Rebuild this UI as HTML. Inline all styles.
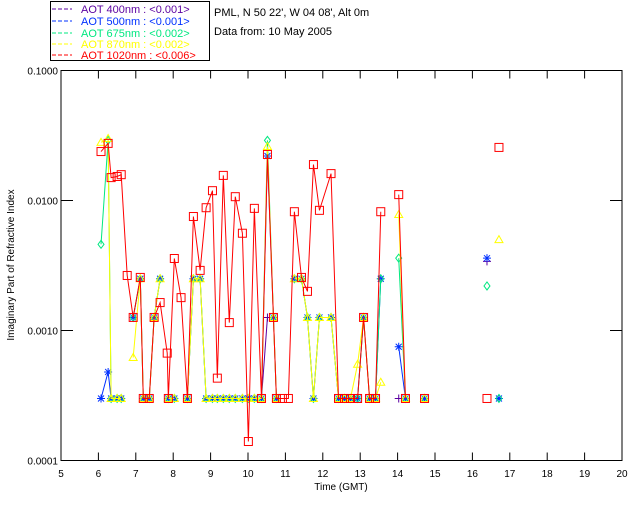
<!DOCTYPE html>
<html><head><meta charset="utf-8"><style>
body{margin:0;background:#fff;width:640px;height:512px;overflow:hidden}
svg{display:block;font-family:"Liberation Sans",sans-serif}
</style></head><body>
<svg id="chart" width="640" height="512">
  <g font-size="11">
    <rect x="50.5" y="1.5" width="159" height="59" fill="#fff" stroke="#000"/>
    <g><line x1="52" y1="9" x2="72" y2="9" stroke="#5a00a0" stroke-dasharray="4,2"/><text x="81" y="13" fill="#5a00a0">AOT  400nm : &lt;0.001&gt;</text></g>
    <g><line x1="52" y1="21" x2="72" y2="21" stroke="#0030ff" stroke-dasharray="4,2"/><text x="81" y="25" fill="#0030ff">AOT  500nm : &lt;0.001&gt;</text></g>
    <g><line x1="52" y1="33" x2="72" y2="33" stroke="#00e880" stroke-dasharray="4,2"/><text x="81" y="37" fill="#00e880">AOT  675nm : &lt;0.002&gt;</text></g>
    <g><line x1="52" y1="44" x2="72" y2="44" stroke="#ffff00" stroke-dasharray="4,2"/><text x="81" y="48" fill="#ffff00">AOT  870nm : &lt;0.002&gt;</text></g>
    <g><line x1="52" y1="55" x2="72" y2="55" stroke="#ff0000" stroke-dasharray="4,2"/><text x="81" y="59" fill="#ff0000">AOT 1020nm : &lt;0.006&gt;</text></g>
  </g>
  <text x="214" y="16" font-size="11">PML, N 50 22', W 04 08', Alt 0m</text>
  <text x="214" y="35" font-size="11">Data from: 10 May 2005</text>
  <rect x="61" y="70.5" width="561" height="390" fill="none" stroke="#000"/>
  <g id="axes"></g>
  <g id="series"></g>
  <text x="341" y="490" font-size="10" text-anchor="middle">Time (GMT)</text>
  <text transform="translate(14,265) rotate(-90)" font-size="10" text-anchor="middle">Imaginary Part of Refractive Index</text>
</svg>
<script>
const times=[6.07,6.26,6.34,6.50,6.61,6.77,6.93,7.12,7.20,7.36,7.49,7.65,7.84,7.87,8.03,8.21,8.38,8.54,8.72,8.88,9.05,9.18,9.34,9.50,9.66,9.85,10.01,10.17,10.36,10.52,10.68,10.76,10.92,11.08,11.24,11.43,11.59,11.75,11.91,12.22,12.42,12.58,12.74,12.93,13.09,13.25,13.41,13.55,14.03,14.21,14.72,16.39,16.71];
const red=[0.0238,0.0275,0.0150,0.0153,0.0158,0.00265,0.00126,0.00256,0.0003,0.0003,0.00126,0.00164,0.00067,0.0003,0.00358,0.00179,0.0003,0.00753,0.0029,0.0088,0.0119,0.00043,0.0156,0.00115,0.0107,0.0056,0.00014,0.0087,0.0003,0.0226,0.00126,0.0003,0.0003,0.0003,0.0082,0.00256,0.002,0.0189,0.0084,0.0161,0.0003,0.0003,0.0003,0.0003,0.00126,0.0003,0.0003,0.0082,0.0111,0.0003,0.0003,0.0003,0.0256];
const blue=[0.0003,0.00048,0.0003,0.0003,0.0003,null,0.00126,0.0025,0.0003,0.0003,0.00126,0.0025,null,0.0003,0.0003,null,0.0003,0.0025,0.0025,0.0003,0.0003,0.0003,0.0003,0.0003,0.0003,0.0003,0.0003,0.0003,0.0003,0.022,0.00126,0.0003,null,null,0.0025,0.0025,0.00126,0.0003,0.00126,0.00126,0.0003,0.0003,0.0003,0.0003,0.00126,0.0003,0.0003,0.0025,0.00075,0.0003,0.0003,0.0036,0.0003];
const green=[0.0046,0.029,0.0003,0.0003,0.0003,null,0.00126,0.0025,0.0003,0.0003,0.00126,0.0025,null,0.0003,0.0003,null,0.0003,0.0025,0.0025,0.0003,0.0003,0.0003,0.0003,0.0003,0.0003,0.0003,0.0003,0.0003,0.0003,0.029,0.00126,0.0003,null,null,0.0025,0.0025,0.00126,0.0003,0.00126,0.00126,0.0003,0.0003,0.0003,0.0003,0.00126,0.0003,0.0003,0.0025,0.0036,0.0003,0.0003,0.0022,0.0003];
const yellow=[0.028,0.030,0.0003,0.0003,0.0003,null,0.00062,0.0025,0.0003,0.0003,0.00126,0.0025,null,0.0003,0.0003,null,0.0003,0.0025,0.0025,0.0003,0.0003,0.0003,0.0003,0.0003,0.0003,0.0003,0.0003,0.0003,0.0003,0.026,0.00126,0.0003,null,null,0.0025,0.0025,0.00126,0.0003,0.00126,0.00126,0.0003,0.0003,0.0003,0.00055,0.00126,0.0003,0.0003,0.0004,0.0078,0.0003,0.0003,null,0.005];
const purple=[null,null,null,null,null,null,null,null,null,null,null,null,null,null,null,null,null,null,null,null,null,null,null,null,null,null,null,null,0.0003,0.00126,null,null,null,null,null,null,null,null,null,null,null,null,null,null,null,null,null,null,0.0003,null,null,0.0034,null];
const xTicks=[5,6,7,8,9,10,11,12,13,14,15,16,17,18,19,20];
const yTicks=[0.1,0.01,0.001,0.0001];
const yTickLabels=["0.1000","0.0100","0.0010","0.0001"];

const NS="http://www.w3.org/2000/svg";
const X0=61,X1=622,YT=70.5,YB=460.5;
function xs(t){return X0+(t-5)/15*(X1-X0);}
function ys(v){return YT+(-1-Math.log10(v))/3*(YB-YT);}
function mk(tag,attrs,parent){const e=document.createElementNS(NS,tag);for(const k in attrs)e.setAttribute(k,attrs[k]);parent.appendChild(e);return e;}
const axes=document.getElementById('axes');
xTicks.forEach(t=>{
  const l=mk('line',{x1:xs(t),x2:xs(t),y1:YB,y2:YB-8,stroke:'#000'},axes);
  
  
  const l2=mk('line',{x1:xs(t),x2:xs(t),y1:YT,y2:YT+8,stroke:'#000'},axes);
  
  
  const tx=mk('text',{x:xs(t),y:477,'font-size':10,'text-anchor':'middle'},axes);
  tx.textContent=t;
  
  
});
yTicks.forEach((v,i)=>{
  const l=mk('line',{x1:X0,x2:X0+12,y1:ys(v),y2:ys(v),stroke:'#000'},axes);
  
  
  const l2=mk('line',{x1:X1,x2:X1-12,y1:ys(v),y2:ys(v),stroke:'#000'},axes);
  
  
  const tx=mk('text',{x:X0-3,y:ys(v)+4,'font-size':10,'text-anchor':'end'},axes);
  tx.textContent=yTickLabels[i];
  
  
});
const sg=document.getElementById('series');
function marker(g,kind,x,y,c){
  let e;
  if(kind==='square') e=mk('rect',{x:x-4,y:y-4,width:8,height:8,fill:'none',stroke:c},g);
  else if(kind==='diamond') e=mk('path',{d:`M${x},${y-4}L${x+3},${y}L${x},${y+4}L${x-3},${y}Z`,fill:'none',stroke:c},g);
  else if(kind==='triangle') e=mk('path',{d:`M${x},${y-4}L${x+4},${y+3}L${x-4},${y+3}Z`,fill:'none',stroke:c},g);
  else if(kind==='star') e=mk('path',{d:`M${x-4},${y}H${x+4}M${x},${y-4}V${y+4}M${x-3},${y-3}L${x+3},${y+3}M${x-3},${y+3}L${x+3},${y-3}`,stroke:c},g);
  else e=mk('path',{d:`M${x-4},${y}H${x+4}M${x},${y-4}V${y+4}`,stroke:c},g);
  
  
}
function series(vals,color,kind,name){
  const g=mk('g',{},sg);
  
  
  let seg=[];const segs=[];
  times.forEach((t,i)=>{const v=vals[i];
    if(v==null){if(seg.length)segs.push(seg);seg=[];return;}
    if(seg.length&&t-times[i-1]>0.315){segs.push(seg);seg=[];}
    seg.push([xs(t),ys(v)]);});
  if(seg.length)segs.push(seg);
  segs.forEach(s=>{if(s.length>1){const p=mk('polyline',{points:s.map(q=>q.join(',')).join(' '),fill:'none',stroke:color,'stroke-width':1},g);
    
    }});
  times.forEach((t,i)=>{if(vals[i]!=null)marker(g,kind,xs(t),ys(vals[i]),color);});
}
series(purple,'#5a00a0','plus','series-400nm');
series(blue,'#0030ff','star','series-500nm');
series(green,'#00e880','diamond','series-675nm');
series(yellow,'#ffff00','triangle','series-870nm');
series(red,'#ff0000','square','series-1020nm');
</script>
</body></html>
